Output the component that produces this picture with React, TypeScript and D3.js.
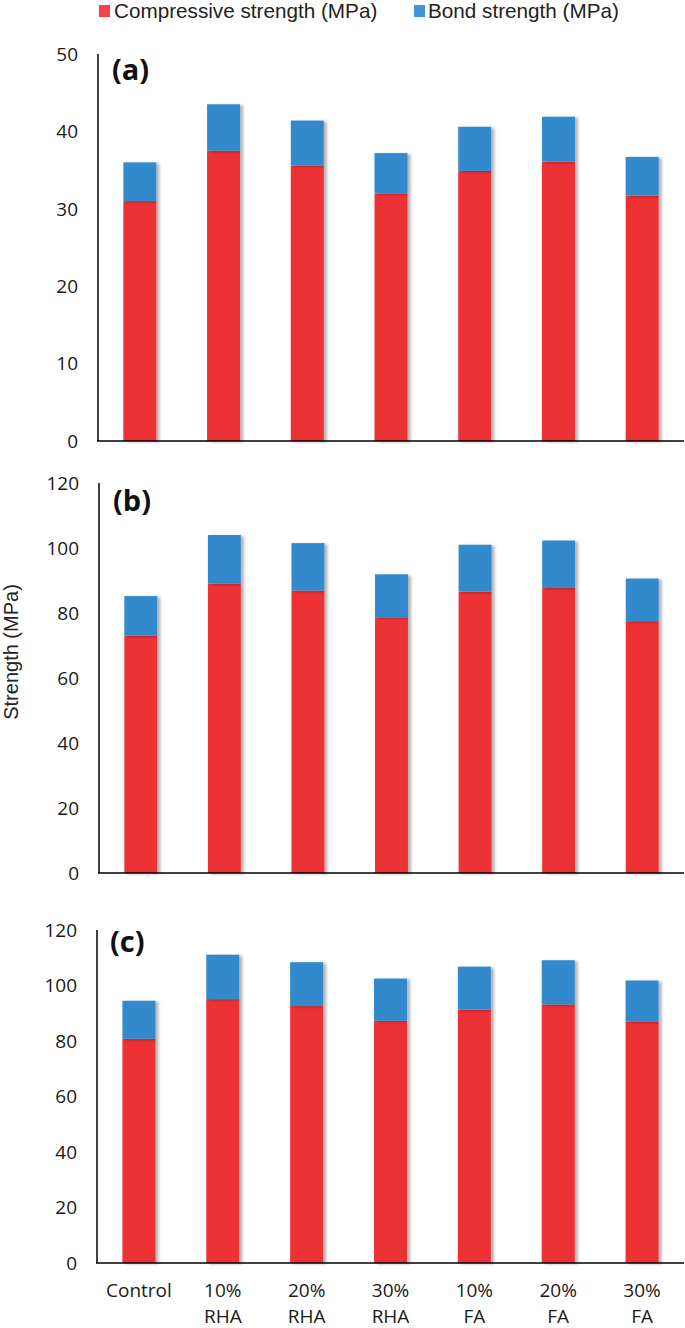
import * as d3 from 'd3';

const categories = ['Control', '10% RHA', '20% RHA', '30% RHA', '10% FA', '20% FA', '30% FA'];
const categoryLines = [['Control'], ['10%', 'RHA'], ['20%', 'RHA'], ['30%', 'RHA'], ['10%', 'FA'], ['20%', 'FA'], ['30%', 'FA']];

// compressive / bond strength (MPa)
const compressiveA = [31.0, 37.5, 35.6, 32.0, 34.9, 36.1, 31.7];
const bondA = [5.0, 6.0, 5.8, 5.2, 5.7, 5.8, 5.0];
const compressiveB = [73.0, 89.0, 86.9, 78.7, 86.6, 87.7, 77.5];
const bondB = [12.2, 15.0, 14.6, 13.2, 14.4, 14.6, 13.1];
const compressiveC = [80.8, 95.1, 92.6, 87.3, 91.3, 93.2, 87.1];
const bondC = [13.7, 16.0, 15.8, 15.2, 15.5, 15.9, 14.7];

const ticksA = [0, 10, 20, 30, 40, 50];
const ticksBC = [0, 20, 40, 60, 80, 100, 120];

const RED = '#ed3235';
const BLUE = '#3389cb';
const W = 685;
const H = 1328;

const panels = [
  { id: 'a', label: '(a)', comp: compressiveA, bond: bondA, ticks: ticksA, top: 54, bottom: 441, x0: 98, lx: 112, ly: 80 },
  { id: 'b', label: '(b)', comp: compressiveB, bond: bondB, ticks: ticksBC, top: 483, bottom: 873, x0: 99, lx: 113, ly: 511 },
  { id: 'c', label: '(c)', comp: compressiveC, bond: bondC, ticks: ticksBC, top: 930, bottom: 1263, x0: 97, lx: 110, ly: 952 },
];

const tickFont = '"Open Sans", sans-serif';
const labelFont = '"Liberation Sans", Arial, sans-serif';

function Panel({ p }) {
  const x = d3.scaleBand().domain(categories).range([p.x0, W - 1]).paddingInner(0.606).paddingOuter(0.303);
  const y = d3.scaleLinear().domain([0, p.ticks[p.ticks.length - 1]]).range([p.bottom, p.top]);
  const stack = d3.stack().keys(['comp', 'bond'])(categories.map((c, i) => ({ cat: c, comp: p.comp[i], bond: p.bond[i] })));
  const colors = [RED, BLUE];

  return (
    <g>
      {stack.map((layer, li) => (
        <g key={li} filter="url(#shadow)">
          {layer.map((d, i) => (
            <rect
              key={i}
              x={x(categories[i])}
              y={y(d[1])}
              width={x.bandwidth()}
              height={y(d[0]) - y(d[1])}
              fill={colors[li]}
            />
          ))}
        </g>
      ))}
      {/* axes */}
      <line x1={p.x0} x2={p.x0} y1={p.top} y2={p.bottom} stroke="#000" strokeWidth={1.5} />
      <line x1={p.x0 - 1} x2={W - 1} y1={p.bottom} y2={p.bottom} stroke="#000" strokeWidth={1.5} />
      {p.ticks.map((t) => (
        <text key={t} x={p.x0 - 20} y={y(t)} dy="0.36em" textAnchor="end" fontFamily={tickFont} fontSize={19} fill="#1a1a1a">
          {t}
        </text>
      ))}
      <text x={p.lx} y={p.ly} fontFamily={tickFont} fontWeight="bold" fontSize={29} fill="#111">
        {p.label}
      </text>
    </g>
  );
}

export default function App() {
  const xBottom = d3.scaleBand().domain(categories).range([97, W - 1]).paddingInner(0.606).paddingOuter(0.303);

  return (
    <svg width={W} height={H} style={{ position: 'absolute', left: 0, top: 0, background: '#fff' }}>
      <defs>
        <filter id="shadow" x="-20%" y="-5%" width="140%" height="110%">
          <feDropShadow dx="3" dy="1" stdDeviation="1.6" floodColor="#000" floodOpacity="0.3" />
        </filter>
      </defs>

      {/* legend */}
      <rect x={99} y={5} width={11} height={12} fill="#f24446" />
      <text x={114} y={18} fontFamily={labelFont} fontSize={20.7} fill="#222">
        Compressive strength (MPa)
      </text>
      <rect x={414} y={5} width={11} height={12} fill="#3f97d8" />
      <text x={428} y={18} fontFamily={labelFont} fontSize={20.7} fill="#222">
        Bond strength (MPa)
      </text>

      {panels.map((p) => (
        <Panel key={p.id} p={p} />
      ))}

      {/* y title */}
      <text
        transform="translate(18,652) rotate(-90)"
        textAnchor="middle"
        fontFamily={labelFont}
        fontSize={20}
        fill="#222"
      >
        Strength (MPa)
      </text>

      {/* category labels */}
      {categories.map((c, i) => (
        <text key={c} textAnchor="middle" fontFamily={tickFont} fontSize={19} fill="#1a1a1a">
          {categoryLines[i].map((line, li) => (
            <tspan key={li} x={xBottom(c) + xBottom.bandwidth() / 2} y={1297 + li * 26}>
              {line}
            </tspan>
          ))}
        </text>
      ))}
    </svg>
  );
}
